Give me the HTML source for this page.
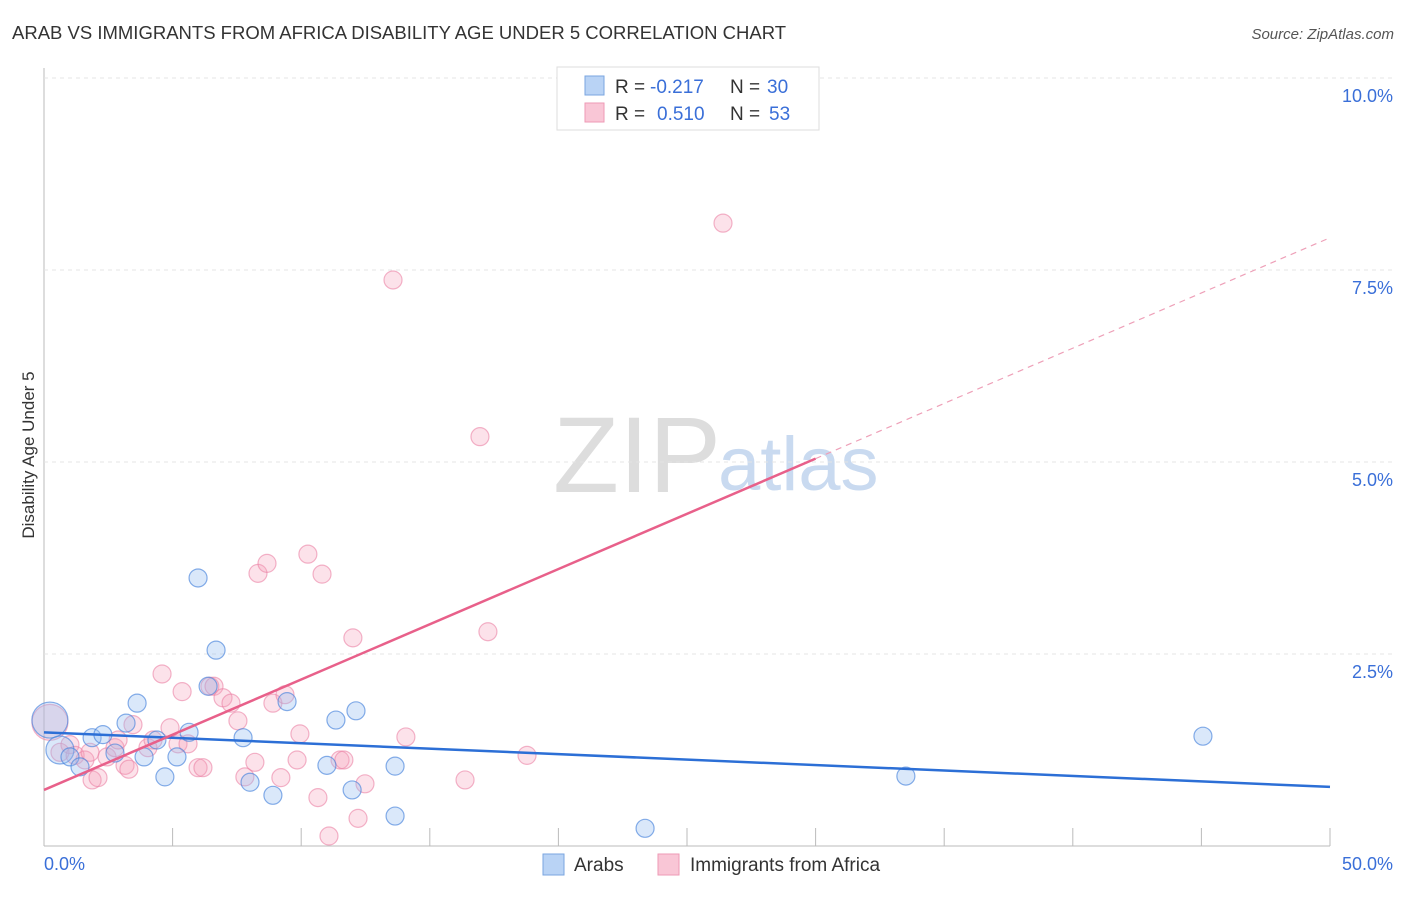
<!DOCTYPE html>
<html><head><meta charset="utf-8"><style>
body{margin:0;background:#fff;font-family:"Liberation Sans",sans-serif;}
svg text{font-family:"Liberation Sans",sans-serif;}
</style></head><body>
<svg id="c" width="1406" height="892">
<text x="12" y="39" font-size="18.5" fill="#333">ARAB VS IMMIGRANTS FROM AFRICA DISABILITY AGE UNDER 5 CORRELATION CHART</text>
<text x="1394" y="39" font-size="15" fill="#555" font-style="italic" text-anchor="end">Source: ZipAtlas.com</text>
<text x="553" y="492" font-size="108" fill="#ddd" font-family="Liberation Serif">ZIP</text>
<text x="718" y="490" font-size="76" fill="#c9daf0">atlas</text>
<text transform="translate(34,455) rotate(-90)" font-size="17" fill="#333" text-anchor="middle">Disability Age Under 5</text>
<g id="grid"></g><g id="pts"></g><g id="lines"></g>
<g>
<rect x="557" y="67" width="262" height="63" fill="#fff" stroke="#ddd"/>
<rect x="585" y="76" width="19" height="19" fill="#b9d3f5" stroke="#7aa6e0"/>
<rect x="585" y="103" width="19" height="19" fill="#f9c6d6" stroke="#ee9ab5"/>
<text x="615" y="93" font-size="19" fill="#333">R =</text>
<text x="650" y="93" font-size="19" fill="#3a6fd8">-0.217</text>
<text x="730" y="93" font-size="19" fill="#333">N =</text>
<text x="767" y="93" font-size="19" fill="#3a6fd8">30</text>
<text x="615" y="120" font-size="19" fill="#333">R =</text>
<text x="657" y="120" font-size="19" fill="#3a6fd8">0.510</text>
<text x="730" y="120" font-size="19" fill="#333">N =</text>
<text x="769" y="120" font-size="19" fill="#3a6fd8">53</text>
</g>
<g>
<rect x="543" y="854" width="21" height="21" fill="#b9d3f5" stroke="#7aa6e0"/>
<text x="574" y="871" font-size="19" fill="#333">Arabs</text>
<rect x="658" y="854" width="21" height="21" fill="#f9c6d6" stroke="#ee9ab5"/>
<text x="690" y="871" font-size="19" fill="#333">Immigrants from Africa</text>
</g>
</svg>
<script>
const xTicks=[0,5,10,15,20,25,30,35,40,45,50];
const yTicks=[2.5,5,7.5,10];
const yTickLabels=["2.5%","5.0%","7.5%","10.0%"];
const arabX=[0.23,0.62,1.01,1.40,1.87,2.29,2.76,3.19,3.62,3.89,4.39,4.70,5.17,5.64,5.99,6.38,6.69,7.74,8.01,8.90,9.45,11.00,11.35,11.98,12.13,13.65,13.65,23.37,33.51,45.06];
const arabY=[1.64,1.25,1.16,1.03,1.41,1.45,1.21,1.60,1.86,1.16,1.38,0.90,1.16,1.48,3.49,2.08,2.55,1.41,0.83,0.66,1.88,1.05,1.64,0.73,1.76,1.04,0.39,0.23,0.91,1.43];
const afrX=[0.23,0.62,1.01,1.21,1.59,1.79,1.87,2.10,2.45,2.76,2.88,3.15,3.46,4.04,4.24,4.59,4.90,5.21,5.37,5.60,5.99,6.18,6.45,6.61,6.96,7.27,7.54,7.81,8.20,8.32,8.67,8.90,9.21,9.37,9.84,9.95,10.26,10.65,10.81,11.08,11.51,11.66,12.01,12.21,12.48,13.57,14.07,16.37,16.95,17.26,18.78,26.40,3.3];
const afrY=[1.61,1.22,1.32,1.18,1.12,1.22,0.86,0.89,1.16,1.28,1.38,1.05,1.58,1.28,1.38,2.24,1.54,1.33,2.01,1.33,1.02,1.02,2.08,2.08,1.93,1.86,1.63,0.90,1.09,3.55,3.68,1.86,0.89,1.97,1.12,1.46,3.80,0.63,3.54,0.13,1.12,1.12,2.71,0.36,0.81,7.37,1.42,0.86,5.33,2.79,1.18,8.11,1.0];
const arabLine=[1.48,0.77];
const afrLine=[0.73,7.92];
const X=v=>44+v*25.72, Y=v=>846-v*76.8;
const NS="http://www.w3.org/2000/svg";
function mk(t,a,p){const e=document.createElementNS(NS,t);for(const k in a)e.setAttribute(k,a[k]);p.appendChild(e);return e;}
const g=document.getElementById('grid'),P=document.getElementById('pts'),L=document.getElementById('lines');
mk('line',{x1:44,y1:68,x2:44,y2:846,stroke:'#bbb'},g);
mk('line',{x1:44,y1:846,x2:1330,y2:846,stroke:'#bbb'},g);
yTicks.forEach((t,i)=>{
 const l=mk('line',{x1:44,y1:Y(t),x2:1394,y2:Y(t),stroke:'#e4e4e4','stroke-dasharray':'4,4'},g);
 
 
 const tx=mk('text',{x:1393,y:Y(t)+24,'font-size':18,fill:'#3a6fd8','text-anchor':'end'},g);tx.textContent=yTickLabels[i];
 
 
});
xTicks.forEach((t,i)=>{if(i>0){const l=mk('line',{x1:X(t),y1:828,x2:X(t),y2:846,stroke:'#bbb'},g);
 
 }});
let t0=mk('text',{x:44,y:870,'font-size':18,fill:'#3a6fd8'},g);t0.textContent='0.0%';


let t1=mk('text',{x:1393,y:870,'font-size':18,fill:'#3a6fd8','text-anchor':'end'},g);t1.textContent='50.0%';


afrX.forEach((v,i)=>{const c=mk('circle',{cx:X(v),cy:Y(afrY[i]),r:i==0?18:9,fill:'rgba(245,160,185,0.3)',stroke:'rgba(235,130,165,0.6)','stroke-width':1.2},P);
 
 });
arabX.forEach((v,i)=>{const c=mk('circle',{cx:X(v),cy:Y(arabY[i]),r:i==0?18:(i==1?14:9),fill:'rgba(150,190,240,0.35)',stroke:'rgba(70,130,220,0.65)','stroke-width':1.2},P);
 
 });
const a=mk('line',{x1:X(0),y1:Y(arabLine[0]),x2:X(50),y2:Y(arabLine[1]),stroke:'#2c6fd6','stroke-width':2.5},L);


const ym=afrLine[0]+(afrLine[1]-afrLine[0])*30/50;
const b=mk('line',{x1:X(0),y1:Y(afrLine[0]),x2:X(30),y2:Y(ym),stroke:'#e8608a','stroke-width':2.5},L);


const d=mk('line',{x1:X(30),y1:Y(ym),x2:X(50),y2:Y(afrLine[1]),stroke:'#eea0b8','stroke-width':1.2,'stroke-dasharray':'6,5'},L);


</script>
</body></html>
